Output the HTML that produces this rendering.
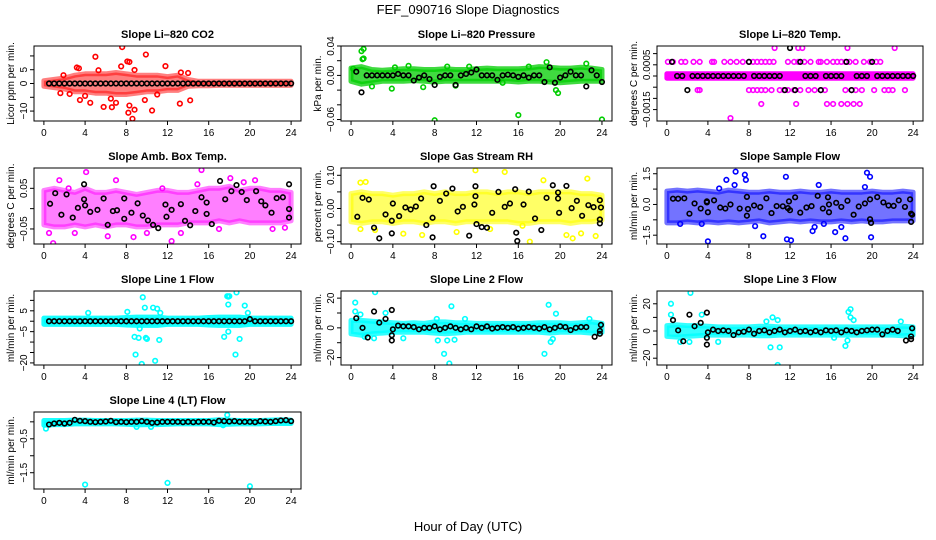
<!DOCTYPE html>
<html><head><meta charset="utf-8">
<style>
html,body{margin:0;padding:0;background:#fff;}
svg{display:block;font-family:"Liberation Sans",Arial,sans-serif;}
</style></head>
<body>
<svg id="chart" width="936" height="540" viewBox="0 0 936 540" xmlns="http://www.w3.org/2000/svg">
<rect width="936" height="540" fill="#fff"/>
<text x="468" y="14" font-size="13" text-anchor="middle">FEF_090716  Slope Diagnostics</text>
<text x="468" y="531" font-size="13" text-anchor="middle">Hour of Day (UTC)</text>
<g id="panels"></g>
</svg>
<script>
const xTicks = [0,4,8,12,16,20,24];
const blackHours = [0.5,1,1.5,2,2.5,3,3.5,4,4.5,5,5.5,6,6.5,7,7.5,8,8.5,9,9.5,10,10.5,11,11.5,12,12.5,13,13.5,14,14.5,15,15.5,16,16.5,17,17.5,18,18.5,19,19.5,20,20.5,21,21.5,22,22.5,23,23.5,24];
const bandHours = [0,1,2,3,4,5,6,7,8,9,10,11,12,13,14,15,16,17,18,19,20,21,22,23,24];

// Panel 1: CO2
const co2Lo = [-1,-1.5,-2,-3,-3,-3.5,-3.5,-4,-4,-3.5,-3,-3,-2.5,-2.5,-1,-0.8,-0.8,-0.7,-0.7,-0.7,-0.7,-0.7,-0.7,-0.7,-0.7];
const co2Hi = [1,1.5,2,3,3.5,3.5,3.5,4,3.5,3,3,3,2.5,3,1.5,0.8,0.8,0.8,0.8,0.8,0.8,0.8,0.8,0.8,0.8];
const co2X = [7.6,5,9.9,8.1,8.3,3.2,3.4,11.8,7.5,5.3,1.9,8.8,13.3,14,3.5,4.5,5.8,6.6,8.2,8.6,8.3,8.8,10.5,13.2,14.2,7,9.8,1.6,2.5,4,6.5,11];
const co2Y = [13.2,9.7,10.5,8,7.8,5.8,5.5,6.3,6.2,4.8,3,4.9,4,3.8,-6,-7,-8.5,-8.6,-10.6,-12.8,-8,-9.5,-9.8,-7.3,-6.1,-7,-6,-3.5,-3.8,-4.5,-5.5,-4];
const co2BlackY = [0,0,0,0,0,0,0,0,0,0,0,0,0,0,0,0,0,0,0,0,0,0,0,0,0,0,0,0,0,0,0,0,0,0,0,0,0,0,0,0,0,0,0,0,0,0,0,0];

// Panel 2: Pressure
const presLo = [-0.008,-0.012,-0.01,-0.008,-0.008,-0.008,-0.007,-0.008,-0.009,-0.008,-0.008,-0.008,-0.008,-0.008,-0.008,-0.008,-0.009,-0.008,-0.008,-0.009,-0.01,-0.009,-0.008,-0.008,-0.008];
const presHi = [0.01,0.012,0.008,0.007,0.008,0.009,0.009,0.008,0.008,0.009,0.008,0.008,0.009,0.01,0.009,0.009,0.009,0.01,0.012,0.011,0.01,0.01,0.011,0.01,0.008];
const presX = [1,1.2,1.1,1.2,0.2,8,16,24,4.2,5.5,9.2,19.8,19.6,14.5,3.9,11.3,18.7,22.5,10,17,6.9,2];
const presY = [0.033,0.036,0.022,0.023,0.009,-0.061,-0.054,-0.06,0.011,0.013,0.012,-0.024,-0.02,-0.01,-0.018,0.012,0.018,0.016,-0.014,0.012,-0.016,-0.015];
const presBlackY = [0.005,-0.023,0,0,0,0,0,0,0.002,0,0,-0.007,-0.003,0,-0.005,-0.013,-0.002,0,0,-0.013,0,0.002,0.004,0.008,0,0,0,-0.006,0,0.001,0,-0.002,0,-0.003,0,0,-0.009,0.011,-0.01,-0.003,0,0.005,0,0,-0.015,0.007,0,-0.009];

// Panel 3: Li-820 Temp (quantized levels)
const tempLo = [-0.0001,-0.0001,-0.0001,-0.0001,-0.0001,-0.0001,-0.0001,-0.0001,-0.0001,-0.0001,-0.0001,-0.0001,-0.0001,-0.0001,-0.0001,-0.0001,-0.0001,-0.0001,-0.0001,-0.0001,-0.0001,-0.0001,-0.0001,-0.0001,-0.0001];
const tempHi = [0.0001,0.0001,0.0001,0.0001,0.0001,0.0001,0.0001,0.0001,0.0001,0.0001,0.0001,0.0001,0.0001,0.0001,0.0001,0.0001,0.0001,0.0001,0.0001,0.0001,0.0001,0.0001,0.0001,0.0001,0.0001];
const tempX = [0.1,0.6,1.4,1.8,2.6,3.2,4.4,4.6,5.6,6.2,6.8,7.4,8,8.4,8.8,9.2,9.6,10,10.4,11.8,12.4,12.8,13.4,14,14.8,15,15.6,16.2,16.6,17,17.4,17.8,18.4,19.2,19.8,20.4,20.8,
  10.5,12.8,13.2,17.6,22.2,
  3,3.2,8,8.4,8.8,9.2,9.6,10.2,11,11.4,11.8,12.4,13,13.8,14.4,15,15.4,17.4,18,18.4,19,20.2,21.2,21.6,22,23.2,
  9.2,12.6,15.6,16.2,17,17.6,18.2,18.8,6.2];
const tempY = [0.00063,0.00063,0.00063,0.00063,0.00063,0.00063,0.00063,0.00063,0.00063,0.00063,0.00063,0.00063,0.00063,0.00063,0.00063,0.00063,0.00063,0.00063,0.00063,0.00063,0.00063,0.00063,0.00063,0.00063,0.00063,0.00063,0.00063,0.00063,0.00063,0.00063,0.00063,0.00063,0.00063,0.00063,0.00063,0.00063,0.00063,
  0.00125,0.00125,0.00125,0.00125,0.00125,
  -0.00063,-0.00063,-0.00063,-0.00063,-0.00063,-0.00063,-0.00063,-0.00063,-0.00063,-0.00063,-0.00063,-0.00063,-0.00063,-0.00063,-0.00063,-0.00063,-0.00063,-0.00063,-0.00063,-0.00063,-0.00063,-0.00063,-0.00063,-0.00063,-0.00063,-0.00063,
  -0.00125,-0.00125,-0.00125,-0.00125,-0.00125,-0.00125,-0.00125,-0.00125,-0.00188];
const tempBlackY = [0.00063,0,0,-0.00063,0,0,0,0,0,0,0,0,0,0,0,0.00063,0,0,0,0,0,0,-0.00063,0.00125,-0.00063,0.00063,0,0,0,-0.00063,0,0,0,0,0.00063,-0.00063,0,0,0,0.00063,0,0,0,0,0,0,0,0];

// Panel 4: Amb Box Temp
const ambLo = [-0.04,-0.045,-0.045,-0.04,-0.045,-0.04,-0.045,-0.04,-0.04,-0.045,-0.045,-0.04,-0.04,-0.04,-0.035,-0.035,-0.035,-0.03,-0.035,-0.03,-0.035,-0.035,-0.035,-0.035,-0.03];
const ambHi = [0.045,0.05,0.045,0.04,0.05,0.04,0.04,0.045,0.04,0.035,0.04,0.045,0.045,0.04,0.04,0.045,0.05,0.05,0.055,0.045,0.05,0.05,0.045,0.045,0.04];
const ambX = [0.5,0.9,1.5,4.1,7,15.3,18.1,20.5,12.4,8.7,6.2,17,22.2,10,3,13.3,23.4,11.5,14.9,2.4,19.4];
const ambY = [-0.06,-0.085,0.07,0.09,0.07,0.095,0.075,0.07,-0.08,-0.07,-0.068,-0.05,-0.05,-0.06,-0.06,-0.06,-0.047,0.05,0.06,0.05,0.065];
const ambBlackX = [0.6,1.1,1.7,2.2,2.8,3.3,3.9,3.9,4,4.5,5.2,5.8,6.2,6.7,7.1,7.8,7.8,8.5,9.1,9.6,10.1,10.6,11.1,11.8,11.9,12.4,13.3,13.7,14.2,14.7,15.3,15.8,15.8,16.3,17.1,17.6,18.2,18.7,19.2,19.7,20.6,21.1,21.5,22.1,22.6,23.2,23.8,23.8,23.8];
const ambBlackY = [0.012,0.038,-0.015,0.035,-0.022,0.002,0.06,0.023,0.008,-0.008,-0.003,0.025,-0.04,-0.006,-0.004,-0.025,0.025,-0.01,0.013,-0.017,-0.029,-0.04,-0.048,0.01,-0.02,-0.003,0.011,-0.03,-0.041,-0.006,0.028,0.015,-0.013,-0.038,0.068,0.023,0.043,0.058,0.041,0.021,0.043,0.018,0.008,-0.01,0.026,0.028,0.06,-0.001,-0.022];

// Panel 5: Gas Stream RH
const rhLo = [-0.04,-0.045,-0.04,-0.04,-0.045,-0.04,-0.04,-0.045,-0.04,-0.04,-0.045,-0.04,-0.04,-0.04,-0.04,-0.04,-0.045,-0.045,-0.04,-0.04,-0.04,-0.045,-0.04,-0.04,-0.035];
const rhHi = [0.045,0.05,0.045,0.045,0.04,0.045,0.045,0.05,0.045,0.05,0.045,0.045,0.05,0.05,0.045,0.05,0.05,0.045,0.05,0.05,0.05,0.05,0.045,0.045,0.04];
const rhX = [11.9,14.7,22.6,0.9,1.4,18.4,17.1,21.2,0.9,2.3,5,6.8,20.6,23.4,22,13.3,10.1,16.4];
const rhY = [0.115,0.11,0.09,0.078,0.08,0.085,-0.1,-0.09,-0.062,-0.065,-0.076,-0.08,-0.08,-0.083,-0.075,-0.062,-0.071,-0.052];
const rhBlackX = [0.6,1.1,1.7,2.2,2.7,3.3,3.9,3.9,4,4.6,5.2,5.7,6.2,6.7,7.2,7.8,7.8,7.9,8.5,9.1,9.7,10.2,10.7,11.3,11.8,11.9,11.9,12,12.5,13,13.5,14.1,14.7,15.2,15.7,15.8,15.9,16.5,17,17.6,18.2,18.7,19.3,19.8,19.8,19.9,20.6,21.1,21.6,22.1,22.7,23.2,23.8,23.8,23.9,23.8];
const rhBlackY = [-0.025,0.032,0.027,-0.058,-0.09,-0.018,-0.037,-0.075,0.015,-0.023,0.003,-0.003,0.006,0.03,-0.05,-0.028,-0.087,0.067,0.023,0.045,0.06,-0.009,0.005,-0.082,0.012,0.067,0.037,-0.047,-0.056,-0.058,-0.013,0.05,0.005,0.015,0.058,-0.073,-0.098,0.012,0.051,-0.03,-0.065,0.032,0.07,0.048,0.03,-0.013,0.068,0.001,0.023,-0.022,0.01,0.004,0.025,-0.033,0.003,-0.045];

// Panel 6: Sample Flow
const sfLo = [-0.9,-0.9,-0.85,-0.9,-0.85,-0.9,-0.85,-0.9,-0.85,-0.8,-0.9,-0.85,-0.8,-0.85,-0.8,-0.85,-0.85,-0.8,-0.85,-0.8,-0.85,-0.85,-0.8,-0.8,-0.8];
const sfHi = [0.65,0.7,0.65,0.7,0.65,0.6,0.7,0.65,0.6,0.6,0.65,0.6,0.6,0.65,0.6,0.6,0.65,0.6,0.6,0.6,0.65,0.6,0.6,0.65,0.6];
const sfX = [6.7,7.6,5.8,7.7,11.6,19.5,19.8,19.3,14.8,6.6,5.1,4,9.4,11.7,12.1,17.4,19.9,16.4,14.2,8.6,14.4,15.3,17,3.4,1.3];
const sfY = [1.6,1.45,1.2,1.2,1.35,1.55,1.35,0.85,0.95,0.95,0.78,-1.8,-1.55,-1.7,-1.75,-1.65,-1.6,-1.35,-1.3,-1.06,-1.1,-0.95,-1.1,-0.95,-0.95];
const sfBlackX = [0.6,1.1,1.7,2.2,2.7,3.3,3.9,3.9,4,4.6,5.2,5.7,6.2,7.1,7.8,7.8,7.9,8.5,9.1,9.7,10.2,10.7,11.3,11.8,11.9,12,12.5,13,13.6,14.1,14.7,15.2,15.7,15.8,15.8,16.5,17,17.6,18.2,18.7,19.3,19.8,19.8,19.9,20.5,21.1,21.6,22.1,22.6,23.2,23.7,23.8,23.9,23.8];
const sfBlackY = [0.28,0.28,0.3,-0.45,0.05,-0.2,0.1,0.15,-0.38,0.2,-0.15,-0.2,0,-0.2,-0.55,0.37,-0.22,-0.05,-0.13,0.3,-0.42,-0.08,-0.09,-0.18,0.15,-0.28,0.35,-0.4,-0.15,-0.08,0.42,-0.2,0.35,0,-0.38,0.08,-0.12,0.18,-0.5,-0.1,0.05,0.25,-0.72,-0.9,0.36,0.1,-0.05,-0.07,0.2,-0.12,0.25,-0.45,-0.5,-0.85];

// Panel 7: Line 1 Flow
const l1Lo = [-1.5,-1.5,-1.5,-1.5,-1.5,-1.5,-1.5,-1.5,-1.8,-2,-2,-2,-1.5,-1.5,-1.5,-1.5,-1.8,-2,-2,-2,-1.5,-1.5,-1.5,-1.5,-1.5];
const l1Hi = [1.5,1.5,1.5,1.5,1.5,1.5,1.5,1.5,1.8,2,2,2,1.5,1.5,1.5,1.5,1.8,2,2,2,1.5,1.5,1.5,1.5,1.5];
const l1X = [9.6,17.8,17.9,18,18.7,9.8,10.6,11,17.9,19.5,8.1,4.3,11.3,19.8,8.8,9.2,9.9,10,11.2,17.5,19,8.9,10.8,9.5,18.6,17.9,9.3];
const l1Y = [11.5,12,11.8,12,13.8,6.5,6.5,6,8,7.5,4.5,4,4,4,-7.5,-8,-8,-8.5,-9,-7.5,-8.5,-16,-19,-20.5,-16,-5,-3.5];
const l1BlackY = [0,0,0,0,0,0,0,0,0,0,0,0,0,0,0,0,0,0,0,0,0,0,0,0,0,0,0,0,0,0,0,0,0,0,0,0,0,0,0,1,0,0,0,0,0,0,0,0];

// Panel 8: Line 2 Flow
const l2Lo = [-4,-5,-4,-3.5,-3,-3,-3,-3,-3.5,-4,-3.5,-3,-3,-3,-3,-3,-3,-3,-3,-3.5,-3,-3,-3,-3.5,-3];
const l2Hi = [5,5,4.5,4,3.5,3,3.5,3,4,4,3.5,3.5,3,3,3,3,3,3,3.5,3.5,3.5,3,3.5,4,3];
const l2X = [0.4,0.4,2.3,9.6,18.9,19.6,0.9,3.3,8.2,10.9,8.3,8.9,9.2,9.4,9.9,18.5,19.1,19.3,5,1.3,2.2,22.8];
const l2Y = [17,11,24,14.5,15.5,9.5,9,10,6,6,-8.5,-17.5,-8.5,-24,-8,-17.5,-9.5,-7.5,-7,-6,-7,6];
const l2BlackX = [0.5,1.1,1.6,2.2,2.7,3.3,3.9,3.9,3.9,4,4.5,5,5.5,6,6.5,7,7.5,8,8.5,9,9.5,10,10.5,11,11.5,12,12.5,13,13.5,14,14.5,15,15.5,16,16.5,17,17.5,18,18.5,19,19.5,20,20.5,21,21.5,22,22.5,23.3,23.8,23.9,23.8];
const l2BlackY = [6.5,0,-6.5,11,3.5,6,-5,-8.5,12,-1,1.5,1,1,0.5,-1,0,0,1,-1,0,1,0,-1,0,-1,1,0,1,-0.5,0,0.5,0,0.5,-0.5,0,0.5,0,-0.5,0.5,-1,0,1,0.5,-1.5,0,0.5,0.5,-6,-4,2,-2];

// Panel 9: Line 3 Flow
const l3Lo = [-4,-4.5,-4,-3.5,-3,-3,-3,-3,-3,-3.5,-3.5,-3,-3,-3,-3,-3,-3,-3,-3,-3,-3,-3,-3,-3.5,-3];
const l3Hi = [4,4.5,4,4,3.5,3,3,3,3,3.5,3.5,3,3,3,3,3,3,3,3,3,3,3,3,3.5,3];
const l3X = [0.4,0.4,2.3,3.4,17.9,17.7,17.9,18.2,9.7,10.3,10.8,1.3,2.2,5,10.1,11,17.4,17.6,10.8,22.8,16.3];
const l3Y = [20,12,28,12,16,14,10,8,7,10,8,-8,-8,-8,-12,-12,-11,-7,-25,7,-5];
const l3BlackX = [0.6,1.1,1.6,2.2,2.7,3.3,3.9,3.9,3.9,4,4.5,5,5.5,6,6.5,7,7.5,8,8.5,9,9.5,10,10.5,11,11.5,12,12.5,13,13.5,14,14.5,15,15.5,16,16.5,17,17.5,18,18.5,19,19.5,20,20.5,21,21.5,22,22.5,23.3,23.8,23.9,23.8];
const l3BlackY = [8,0.5,-7.5,12,3.5,6,-5,-10,13.5,-1,1,0,0.5,0,-3,-1,-0.5,1,-2,0,0.5,-1,0,1,-1,0,1,-0.5,0,-1,0,-1,0.5,0,0.5,-1,0.5,0,-1,0,0.5,1,1,-2.5,0,1,0,-7,-4,2,-6];

// Panel 10: Line 4 (LT) Flow
const l4Lo = [-0.1,-0.08,-0.08,-0.06,-0.06,-0.06,-0.06,-0.06,-0.07,-0.09,-0.08,-0.08,-0.07,-0.06,-0.06,-0.06,-0.06,-0.08,-0.07,-0.06,-0.06,-0.06,-0.05,-0.05,-0.05];
const l4Hi = [0.04,0.04,0.04,0.05,0.05,0.04,0.04,0.04,0.04,0.05,0.05,0.04,0.04,0.04,0.04,0.04,0.04,0.06,0.05,0.04,0.04,0.04,0.05,0.06,0.05];
const l4X = [0.2,4,12,20,17.8,10.4,9,17.4];
const l4Y = [-0.2,-1.85,-1.8,-1.9,0.2,-0.15,-0.15,-0.1];
const l4BlackY = [-0.08,-0.05,-0.03,-0.05,-0.03,0.06,0.03,0.02,0,-0.01,0,0.01,0.03,-0.01,0,-0.01,0,0,0.02,0,-0.03,-0.02,0,0,0,0,-0.01,0,-0.01,0,0,0,-0.02,0.03,0.02,0.01,0.02,0,0,0,-0.01,0.02,0.01,0,0.02,0.04,0.05,0.02];

const panels = [
 {name:'co2',title:'Slope Li\u2013820 CO2',ylab:'Licor ppm per min.',x:34,y:46,w:267,h:75,ymin:-13.6,ymax:13.6,col:'#ff0000',op:0.5,lo:co2Lo,hi:co2Hi,sx:co2X,sy:co2Y,bx:blackHours,by:co2BlackY,
  ticks:[10,5,0,-5,-10],labels:['','5','0','','\u221210']},
 {name:'pressure',title:'Slope Li\u2013820 Pressure',ylab:'kPa per min.',x:341,y:46,w:271,h:75,ymin:-0.062,ymax:0.04,col:'#00cd00',op:0.75,lo:presLo,hi:presHi,sx:presX,sy:presY,bx:blackHours,by:presBlackY,
  ticks:[0.04,0.02,0,-0.02,-0.04,-0.06],labels:['0.04','','0.00','','','\u22120.06']},
 {name:'temp',title:'Slope Li\u2013820 Temp.',ylab:'degrees C per min.',x:657,y:46,w:266,h:75,ymin:-0.00201,ymax:0.00134,col:'#ff00ff',op:1,lo:tempLo,hi:tempHi,sx:tempX,sy:tempY,bx:blackHours,by:tempBlackY,
  ticks:[0.001,0.0005,0,-0.0005,-0.001,-0.0015],labels:['','0.0005','','','','\u22120.0015']},
 {name:'amb-box-temp',title:'Slope Amb. Box Temp.',ylab:'degrees C per min.',x:34,y:168,w:267,h:76,ymin:-0.087,ymax:0.1,col:'#ff00ff',op:0.5,lo:ambLo,hi:ambHi,sx:ambX,sy:ambY,bx:ambBlackX,by:ambBlackY,
  ticks:[0.05,0,-0.05],labels:['0.05','','\u22120.05']},
 {name:'gas-stream-rh',title:'Slope Gas Stream RH',ylab:'percent per min.',x:341,y:168,w:271,h:76,ymin:-0.107,ymax:0.122,col:'#ffff00',op:0.6,lo:rhLo,hi:rhHi,sx:rhX,sy:rhY,bx:rhBlackX,by:rhBlackY,
  ticks:[0.1,0.05,0,-0.05,-0.1],labels:['0.10','','0.00','','\u22120.10']},
 {name:'sample-flow',title:'Slope Sample Flow',ylab:'ml/min per min.',x:657,y:168,w:266,h:76,ymin:-1.93,ymax:1.78,col:'#0000ff',op:0.55,lo:sfLo,hi:sfHi,sx:sfX,sy:sfY,bx:sfBlackX,by:sfBlackY,
  ticks:[1.5,0.75,0,-0.75,-1.5],labels:['1.5','','0.0','','\u22121.5']},
 {name:'line1-flow',title:'Slope Line 1 Flow',ylab:'ml/min per min.',x:34,y:291,w:267,h:74,ymin:-21,ymax:14.5,col:'#00ffff',op:0.9,lo:l1Lo,hi:l1Hi,sx:l1X,sy:l1Y,bx:blackHours,by:l1BlackY,
  ticks:[10,5,0,-5,-10,-15,-20],labels:['','5','','\u22125','','','\u221220']},
 {name:'line2-flow',title:'Slope Line 2 Flow',ylab:'ml/min per min.',x:341,y:291,w:271,h:74,ymin:-25,ymax:24.8,col:'#00ffff',op:0.8,lo:l2Lo,hi:l2Hi,sx:l2X,sy:l2Y,bx:l2BlackX,by:l2BlackY,
  ticks:[20,10,0,-10,-20],labels:['20','','0','','\u221220']},
 {name:'line3-flow',title:'Slope Line 3 Flow',ylab:'ml/min per min.',x:657,y:291,w:266,h:74,ymin:-25,ymax:29.4,col:'#00ffff',op:0.8,lo:l3Lo,hi:l3Hi,sx:l3X,sy:l3Y,bx:l3BlackX,by:l3BlackY,
  ticks:[20,10,0,-10,-20],labels:['20','','0','','\u221220']},
 {name:'line4-flow',title:'Slope Line 4 (LT) Flow',ylab:'ml/min per min.',x:34,y:412,w:267,h:77,ymin:-1.98,ymax:0.29,col:'#00ffff',op:0.9,lo:l4Lo,hi:l4Hi,sx:l4X,sy:l4Y,bx:blackHours,by:l4BlackY,
  ticks:[0,-0.5,-1,-1.5],labels:['','\u22120.5','','\u22121.5']}
];

const NS='http://www.w3.org/2000/svg';
function mk(tag, attrs, parent){const e=document.createElementNS(NS,tag);for(const k in attrs)e.setAttribute(k,attrs[k]);parent.appendChild(e);return e;}
const root=document.getElementById('panels');

panels.forEach(p=>{
  const g=mk('g',{},root);
  
  
  const dx=(p.w)/(24*1.08), x0=p.x+p.w*0.5-12*dx;
  const xs=v=>x0+v*dx;
  const ys=v=>p.y+(p.ymax-v)/(p.ymax-p.ymin)*p.h;
  const clip='clip-'+p.name;
  const cp=mk('clipPath',{id:clip},g); mk('rect',{x:p.x,y:p.y,width:p.w,height:p.h},cp);
  const plot=mk('g',{'clip-path':'url(#'+clip+')'},g);
  let pts=[];
  bandHours.forEach((h,i)=>pts.push(xs(h).toFixed(1)+','+ys(p.hi[i]).toFixed(1)));
  for(let i=bandHours.length-1;i>=0;i--) pts.push(xs(bandHours[i]).toFixed(1)+','+ys(p.lo[i]).toFixed(1));
  const band=mk('polygon',{points:pts.join(' '),fill:p.col,stroke:p.col,'stroke-width':5,'stroke-linejoin':'round','fill-opacity':p.op,'stroke-opacity':p.op},plot);
  
  
  p.sx.forEach((h,i)=>{
    const c=mk('circle',{cx:xs(h),cy:ys(p.sy[i]),r:2.3,fill:'none',stroke:p.col,'stroke-width':1.6},plot);
    
    
  });
  p.bx.forEach((h,i)=>{
    const c=mk('circle',{cx:xs(h),cy:ys(p.by[i]),r:2.3,fill:'none',stroke:'#000','stroke-width':1.6},plot);
    
    
  });
  const box=mk('rect',{x:p.x,y:p.y,width:p.w,height:p.h,fill:'none',stroke:'#000','stroke-width':1},g);
  
  
  const t=mk('text',{x:p.x+p.w/2,y:p.y-8,'font-size':11,'font-weight':'bold','text-anchor':'middle'},g);
  t.textContent=p.title;
  
  
  const xa=mk('g',{},g);
  
  
  mk('line',{x1:xs(0),x2:xs(24),y1:p.y+p.h,y2:p.y+p.h,stroke:'#000'},xa);
  xTicks.forEach(v=>{
    mk('line',{x1:xs(v),x2:xs(v),y1:p.y+p.h,y2:p.y+p.h+4,stroke:'#000'},xa);
    const tl=mk('text',{x:xs(v),y:p.y+p.h+15,'font-size':10,'text-anchor':'middle'},xa);
    tl.textContent=v;
  });
  const ya=mk('g',{},g);
  
  
  p.ticks.forEach((v,i)=>{
    const yy=ys(v);
    mk('line',{x1:p.x-4,x2:p.x,y1:yy,y2:yy,stroke:'#000'},ya);
    if(p.labels[i]){
      const tl=mk('text',{x:0,y:0,'font-size':10,'text-anchor':'middle',transform:'translate('+(p.x-7)+','+yy+') rotate(-90)'},ya);
      tl.textContent=p.labels[i];
    }
  });
  const yl=mk('text',{x:0,y:0,'font-size':10,'text-anchor':'middle',transform:'translate('+(p.x-20)+','+(p.y+p.h/2)+') rotate(-90)'},g);
  yl.textContent=p.ylab;
  
  
});
</script>
</body></html>
